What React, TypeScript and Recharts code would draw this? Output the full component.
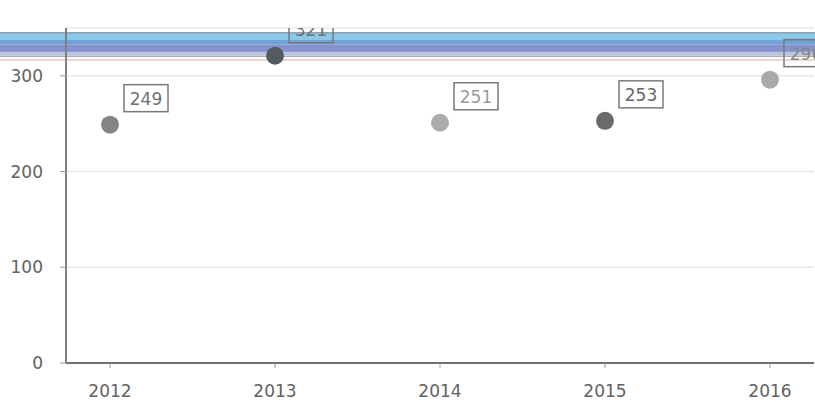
import React from 'react';
import {
  ComposedChart,
  Scatter,
  XAxis,
  YAxis,
  CartesianGrid,
  ReferenceArea,
  ReferenceLine,
  Cell,
} from 'recharts';

const years = ['2012', '2013', '2014', '2015', '2016'];
const values = [249, 321, 251, 253, 296];
const yTicks = [0, 100, 200, 300];
const yDomainMax = 350;

// horizontal reference band (value ranges)
const bandLightTop = 345;
const bandLightBottom = 337.5;
const bandMidBottom = 332.5;
const bandDarkBottom = 325;
const bandPaleBottom = 321.5;
const bandLowerLine = 320.5;
const bandRedLine = 316.5;

const pointColors = ['#858585', '#535a62', '#ababab', '#6a6a6a', '#a9a9a9'];
const labelColors = ['#707070', '#707070', '#9a9a9a', '#666666', '#888888'];

const data = years.map((year, i) => ({ year, value: values[i], idx: i }));

const FONT = '"DejaVu Sans", Verdana, sans-serif';

const FullWidthBand = (props: any) => {
  const { y, height, fill } = props;
  if (y == null || height == null) return null;
  return <rect x={0} y={y} width={815} height={height} fill={fill} />;
};

const FullWidthLine = (color: string, w: number) => (props: any) => {
  const y = props.y1 ?? props.y;
  if (y == null) return null;
  return <line x1={0} x2={815} y1={y} y2={y} stroke={color} strokeWidth={w} />;
};

const PointShape = (props: any) => {
  const { cx, cy, payload } = props;
  if (cx == null || cy == null) return null;
  const i = payload.idx;
  const bx = cx + 14;
  const by = cy - 40;
  return (
    <g>
      <circle cx={cx} cy={cy} r={9} fill={pointColors[i]} />
      <rect
        x={bx}
        y={by}
        width={44}
        height={27}
        fill="none"
        stroke="#7a7a7a"
        strokeWidth={1.5}
      />
      <text
        x={bx + 22}
        y={by + 20}
        textAnchor="middle"
        fontSize={17}
        fontFamily={FONT}
        fill={labelColors[i]}
      >
        {payload.value}
      </text>
    </g>
  );
};

export default function App() {
  return (
    <div style={{ position: 'absolute', left: 0, top: 0, background: '#fff' }}>
      <ComposedChart
        width={815}
        height={405}
        data={data}
        margin={{ top: 28, right: 1, bottom: 12, left: 0 }}
      >
        <CartesianGrid vertical={false} stroke="#e8e8e8" strokeWidth={1.5} />
        <ReferenceArea
          y1={bandLightBottom}
          y2={bandLightTop}
          fill="#8ac8e8"
          fillOpacity={1}
          ifOverflow="visible"
          shape={FullWidthBand}
        />
        <ReferenceArea
          y1={bandMidBottom}
          y2={bandLightBottom}
          fill="#6fa3d8"
          fillOpacity={1}
          ifOverflow="visible"
          shape={FullWidthBand}
        />
        <ReferenceArea
          y1={bandDarkBottom}
          y2={bandMidBottom}
          fill="#8592cb"
          fillOpacity={1}
          ifOverflow="visible"
          shape={FullWidthBand}
        />
        <ReferenceArea
          y1={bandPaleBottom}
          y2={bandDarkBottom}
          fill="#bcc5e6"
          fillOpacity={1}
          ifOverflow="visible"
          shape={FullWidthBand}
        />
        <ReferenceLine y={bandLightTop} ifOverflow="visible" shape={FullWidthLine('#8da2b2', 1.5)} />
        <ReferenceLine y={bandLowerLine} ifOverflow="visible" shape={FullWidthLine('#a7adb4', 1.5)} />
        <ReferenceLine y={bandRedLine} ifOverflow="visible" shape={FullWidthLine('#ecc6c0', 1.5)} />
        <XAxis
          dataKey="year"
          padding={{ left: 44, right: 44 }}
          height={30}
          tickSize={5}
          tickMargin={17}
          axisLine={{ stroke: '#707070', strokeWidth: 2 }}
          tickLine={{ stroke: '#9a9a9a' }}
          tick={{ fontSize: 17, fill: '#626262', fontFamily: FONT }}
        />
        <YAxis
          width={66}
          domain={[0, yDomainMax]}
          ticks={yTicks}
          allowDataOverflow
          tickSize={6}
          tickMargin={17}
          axisLine={{ stroke: '#808080', strokeWidth: 2 }}
          tickLine={{ stroke: '#9a9a9a' }}
          tick={{ fontSize: 17, fill: '#626262', fontFamily: FONT }}
        />
        <Scatter dataKey="value" isAnimationActive={false} shape={PointShape}>
          {data.map((d, i) => (
            <Cell key={d.year} fill={pointColors[i]} />
          ))}
        </Scatter>
      </ComposedChart>
    </div>
  );
}
